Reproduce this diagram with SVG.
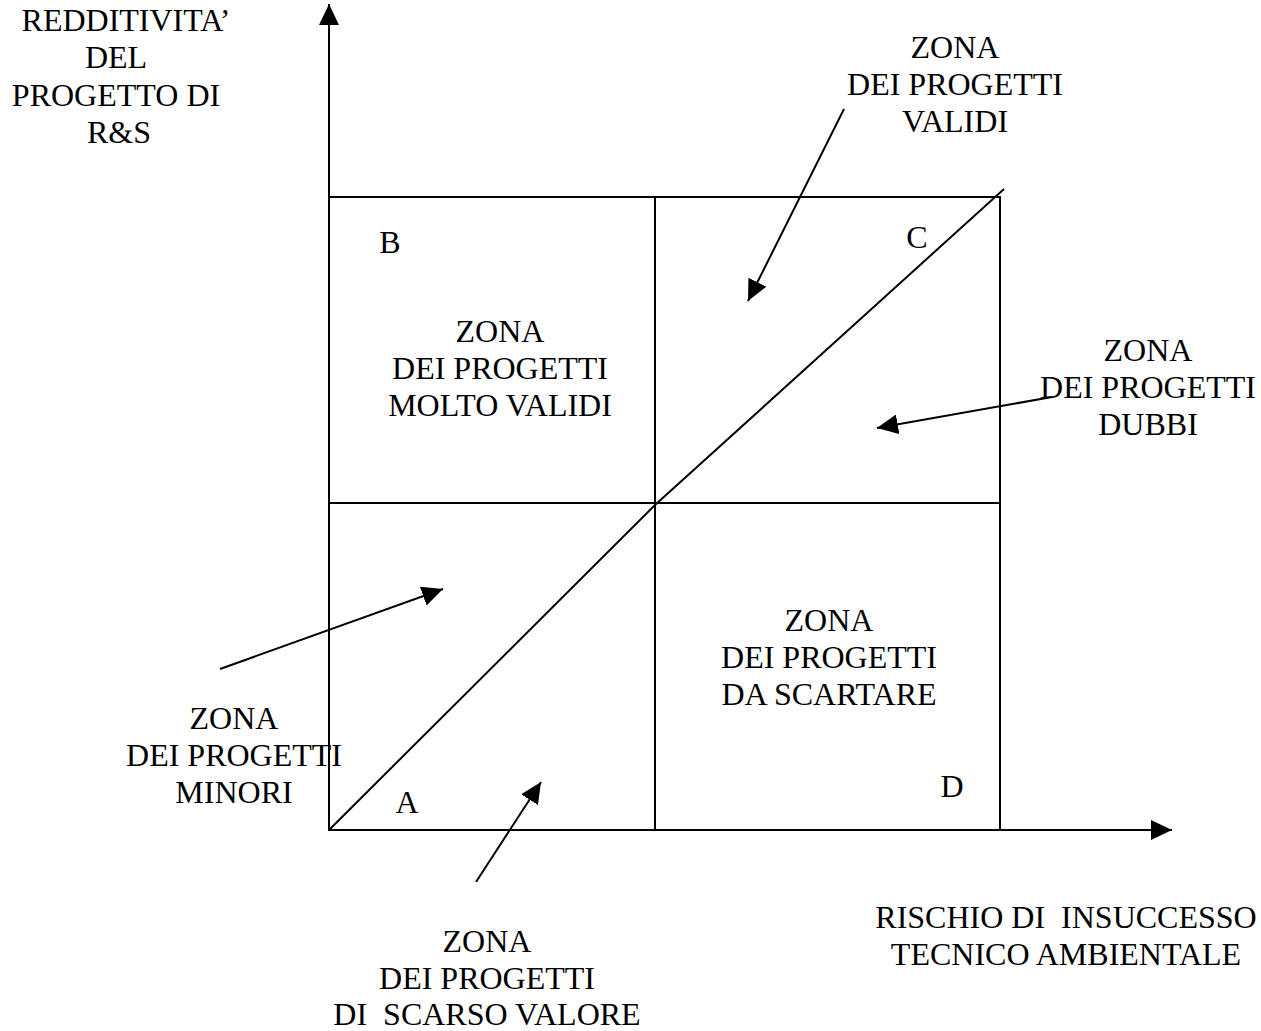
<svg xmlns="http://www.w3.org/2000/svg" width="1261" height="1031" viewBox="0 0 1261 1031">
<style>
text{font-family:"Liberation Serif","Times New Roman",serif;font-size:32px;fill:#000;text-anchor:middle;white-space:pre}
.ln{stroke:#000;stroke-width:2;fill:none}
</style>
<defs>
<marker id="ah" viewBox="0 0 21 20" refX="21" refY="10" markerWidth="21" markerHeight="20" markerUnits="userSpaceOnUse" orient="auto">
<path d="M0,0 L21,10 L0,20 z" fill="#000"/>
</marker>
</defs>
<rect width="1261" height="1031" fill="#fff"/>
<g id="grid">
<rect class="ln" x="329" y="197" width="671" height="633"/>
<line class="ln" x1="655" y1="197" x2="655" y2="830"/>
<line class="ln" x1="329" y1="503" x2="1000" y2="503"/>
<path class="ln" d="M329,830 L655,505 L1004,189"/>
</g>
<g id="axes">
<line class="ln" x1="329" y1="830" x2="329" y2="4" marker-end="url(#ah)"/>
<line class="ln" x1="329" y1="830" x2="1172" y2="830" marker-end="url(#ah)"/>
</g>
<g id="connectors">
<line class="ln" x1="844" y1="109" x2="748" y2="301" marker-end="url(#ah)"/>
<line class="ln" x1="1052" y1="397" x2="877" y2="428" marker-end="url(#ah)"/>
<line class="ln" x1="220" y1="669" x2="443" y2="589" marker-end="url(#ah)"/>
<line class="ln" x1="476" y1="882" x2="541" y2="782" marker-end="url(#ah)"/>
</g>
<g id="y-label">
<text x="126" y="31">REDDITIVITA’</text>
<text x="116" y="68">DEL</text>
<text x="116" y="106">PROGETTO DI</text>
<text x="119" y="143">R&amp;S</text>
</g>
<g id="x-label">
<text x="1066" y="928" xml:space="preserve">RISCHIO DI  INSUCCESSO</text>
<text x="1066" y="965">TECNICO AMBIENTALE</text>
</g>
<g id="zona-validi">
<text x="955" y="58">ZONA</text>
<text x="955" y="95">DEI PROGETTI</text>
<text x="955" y="132">VALIDI</text>
</g>
<g id="zona-molto-validi">
<text x="500" y="342">ZONA</text>
<text x="500" y="379">DEI PROGETTI</text>
<text x="500" y="416">MOLTO VALIDI</text>
</g>
<g id="zona-dubbi">
<text x="1148" y="361">ZONA</text>
<text x="1148" y="398">DEI PROGETTI</text>
<text x="1148" y="435">DUBBI</text>
</g>
<g id="zona-da-scartare">
<text x="829" y="631">ZONA</text>
<text x="829" y="668">DEI PROGETTI</text>
<text x="829" y="705">DA SCARTARE</text>
</g>
<g id="zona-minori">
<text x="234" y="729">ZONA</text>
<text x="234" y="766">DEI PROGETTI</text>
<text x="234" y="803">MINORI</text>
</g>
<g id="zona-scarso-valore">
<text x="487" y="952">ZONA</text>
<text x="487" y="989">DEI PROGETTI</text>
<text x="487" y="1025" xml:space="preserve">DI  SCARSO VALORE</text>
</g>
<g id="corners">
<text x="390" y="253">B</text>
<text x="917" y="248">C</text>
<text x="407" y="813">A</text>
<text x="952" y="797">D</text>
</g>
</svg>
